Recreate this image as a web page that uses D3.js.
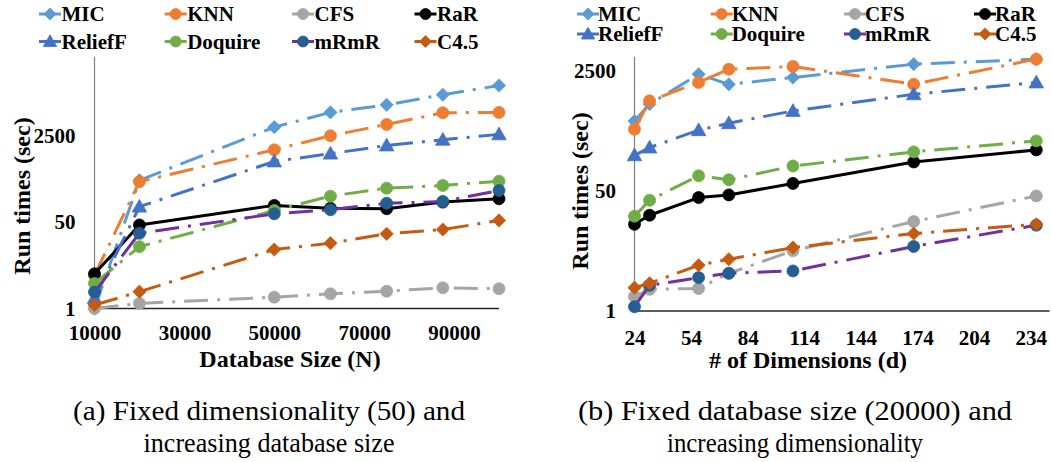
<!DOCTYPE html>
<html>
<head>
<meta charset="utf-8">
<script src="https://cdn.jsdelivr.net/npm/d3@7/dist/d3.min.js"></script>
<style>
  body { margin: 0; background: #fff; }
  svg { display: block; }
</style>
</head>
<body>
<svg id="fig" width="1051" height="462"></svg>
<script>
// ---- series definitions (shared by both panels) ----
const seriesNames  = ["MIC", "KNN", "CFS", "RaR", "ReliefF", "Doquire", "mRmR", "C4.5"];
const lineColors   = ["#5B9BD5", "#ED7D31", "#A5A5A5", "#000000", "#4472C4", "#70AD47", "#7030A0", "#C55A11"];
const markerColors = ["#5B9BD5", "#ED7D31", "#A5A5A5", "#000000", "#4472C4", "#70AD47", "#255E91", "#C55A11"];
const markerShapes = ["diamond", "circle", "circle", "circle", "triangle", "circle", "circle", "diamond"];
const solidLine    = [false, false, false, true, false, false, false, false];

// ---- (a) fixed dimensionality, growing database ----
const dbSizes     = [10000, 20000, 50000, 62500, 75000, 87500, 100000];
const sizeMIC     = [1.0, 330, 3650, 7100, 10000, 15800, 24000];
const sizeKNN     = [4.5, 310, 1310, 2470, 4120, 7000, 7100];
const sizeCFS     = [1.0, 1.26, 1.67, 1.94, 2.19, 2.55, 2.44];
const sizeRaR     = [4.8, 43.7, 106, 93, 91, 123, 143];
const sizeReliefF = [1.6, 100, 773, 1100, 1590, 2060, 2630];
const sizeDoquire = [3.1, 16.4, 84, 161, 231, 261, 317];
const sizeMRMR    = [2.1, 30, 72.5, 87, 117, 126, 208];
const sizeC45     = [1.17, 2.14, 14.4, 19.2, 29.3, 35.6, 53.6];
const sizeTicks   = [10000, 30000, 50000, 70000, 90000];

// ---- (b) fixed database size, growing dimensionality ----
const dims        = [24, 32, 58, 74, 108, 172, 237];
const dimMIC      = [490, 850, 2250, 1620, 2020, 3120, 3670];
const dimKNN      = [375, 944, 1720, 2650, 2900, 1625, 3680];
const dimCFS      = [1.6, 2.03, 2.08, 3.42, 7.1, 18.5, 42.6];
const dimRaR      = [16.9, 22.7, 40.4, 44, 64, 129, 191];
const dimReliefF  = [160, 206, 363, 456, 680, 1170, 1720];
const dimDoquire  = [22, 37, 82, 72, 113, 179, 256];
const dimMRMR     = [1.15, 2.31, 2.97, 3.42, 3.69, 8.2, 16.4];
const dimC45      = [2.14, 2.47, 4.44, 5.4, 7.9, 12.5, 16.9];
const dimTicks    = [24, 54, 84, 114, 144, 174, 204, 234];

const timeTicks = [1, 50, 2500];

const SERIF = '"Liberation Serif", "Times New Roman", Times, serif';
const svg = d3.select("#fig");

function styleText(sel, size, bold) {
  return sel.style("font-family", SERIF).style("font-size", size + "px")
    .style("font-weight", bold ? "bold" : "normal").attr("fill", "#000");
}

function markerPath(shape, s) {
  if (shape === "diamond") return `M0,${-s}L${s},0L0,${s}L${-s},0Z`;
  const h = s * 1.1;
  return `M0,${-h}L${h},${h * 0.75}L${-h},${h * 0.75}Z`;
}

function drawMarker(g, shape, color, x, y, s) {
  if (shape === "circle") {
    g.append("circle").attr("cx", x).attr("cy", y).attr("r", s)
      .attr("fill", color).attr("stroke", color).attr("stroke-width", 0.8);
  } else {
    g.append("path").attr("d", markerPath(shape, s + 0.6))
      .attr("transform", `translate(${x},${y})`)
      .attr("fill", color).attr("stroke", color).attr("stroke-width", 0.8);
  }
}

function drawPanel(cfg) {
  const g = svg.append("g");
  const x = d3.scaleLinear().domain(cfg.xDomain).range(cfg.xRange);
  const y = d3.scaleLog().domain([1, 2500]).range(cfg.yRange);

  // axis lines
  g.append("line").attr("x1", cfg.xRange[0]).attr("x2", cfg.xRange[0])
    .attr("y1", cfg.axisTop).attr("y2", y(1))
    .attr("stroke", "#7f7f7f").attr("stroke-width", 1.2);
  g.append("line").attr("x1", cfg.xRange[0]).attr("x2", cfg.xRange[1])
    .attr("y1", y(1)).attr("y2", y(1))
    .attr("stroke", "#262626").attr("stroke-width", 1.4);

  // y tick labels
  const ya = g.append("g").attr("transform", `translate(${cfg.xRange[0]},0)`)
    .call(d3.axisLeft(y).tickValues(timeTicks).tickFormat(d3.format("d"))
      .tickSize(0).tickPadding(cfg.yPad));
  ya.select(".domain").remove();
  styleText(ya.selectAll("text"), 21, true);

  // x tick labels
  const xa = g.append("g").attr("transform", `translate(0,${y(1)})`)
    .call(d3.axisBottom(x).tickValues(cfg.ticks).tickFormat(d3.format("d"))
      .tickSize(0).tickPadding(cfg.xPad));
  xa.select(".domain").remove();
  styleText(xa.selectAll("text"), 21, true);

  // axis titles
  styleText(g.append("text").attr("x", cfg.xTitle[0]).attr("y", cfg.xTitle[1])
    .attr("text-anchor", "middle"), 24, true).text(cfg.xLabel);
  styleText(g.append("text")
    .attr("transform", `translate(${cfg.yTitle[0]},${cfg.yTitle[1]}) rotate(-90)`)
    .attr("text-anchor", "middle").attr("dominant-baseline", "central"), 24, true)
    .text("Run times (sec)");

  // series: line first, then its markers on top
  const line = d3.line().x(d => x(d[0])).y(d => y(d[1]));
  cfg.series.forEach((vals, i) => {
    const pts = cfg.xs.map((xv, k) => [xv, vals[k]]);
    const sg = g.append("g");
    sg.append("path").attr("d", line(pts)).attr("fill", "none")
      .attr("stroke", lineColors[i]).attr("stroke-width", 3)
      .attr("stroke-linejoin", "round")
      .attr("stroke-dasharray", solidLine[i] ? null : "24,9,3,9");
    pts.forEach(p => drawMarker(sg, markerShapes[i], markerColors[i], x(p[0]), y(p[1]), 6));
  });

  // legend (4 columns, 2 rows)
  const lg = g.append("g");
  seriesNames.forEach((name, i) => {
    const col = i % 4, row = Math.floor(i / 4);
    const mx = cfg.legendX[col], my = cfg.legendY[row];
    lg.append("line").attr("x1", mx - 11).attr("x2", mx + 11)
      .attr("y1", my).attr("y2", my)
      .attr("stroke", lineColors[i]).attr("stroke-width", 3);
    drawMarker(lg, markerShapes[i], markerColors[i], mx, my, 5.5);
    styleText(lg.append("text").attr("x", mx + cfg.legendGap).attr("y", my + 7), 21, true)
      .text(name);
  });

  // caption below the panel
  cfg.caption.forEach((c, k) => {
    styleText(g.append("text").attr("x", cfg.captionX).attr("y", cfg.captionY[k])
      .attr("text-anchor", "middle")
      .attr("textLength", c.w).attr("lengthAdjust", "spacingAndGlyphs"), 27, false)
      .text(c.t);
  });
}

drawPanel({
  xs: dbSizes,
  series: [sizeMIC, sizeKNN, sizeCFS, sizeRaR, sizeReliefF, sizeDoquire, sizeMRMR, sizeC45],
  xDomain: [10000, 100000], xRange: [94.5, 499],
  yRange: [308.5, 135.5], axisTop: 57,
  ticks: sizeTicks, yPad: 19, xPad: 17,
  xLabel: "Database Size (N)", xTitle: [290, 367], yTitle: [22, 196],
  legendX: [50, 175.7, 303, 425.5], legendY: [14, 41.5], legendGap: 11.5,
  caption: [{ t: "(a) Fixed dimensionality (50) and", w: 392 },
            { t: "increasing database size", w: 251 }],
  captionX: 269, captionY: [420, 452]
});

drawPanel({
  xs: dims,
  series: [dimMIC, dimKNN, dimCFS, dimRaR, dimReliefF, dimDoquire, dimMRMR, dimC45],
  xDomain: [24, 244], xRange: [634.5, 1049.5],
  yRange: [311, 71], axisTop: 57,
  ticks: dimTicks, yPad: 18.5, xPad: 19,
  xLabel: "# of Dimensions (d)", xTitle: [808, 368], yTitle: [580, 191],
  legendX: [588, 721.7, 855, 985], legendY: [14, 34], legendGap: 10,
  caption: [{ t: "(b) Fixed database size (20000) and", w: 434 },
            { t: "increasing dimensionality", w: 256 }],
  captionX: 795, captionY: [420, 452]
});
</script>
</body>
</html>
